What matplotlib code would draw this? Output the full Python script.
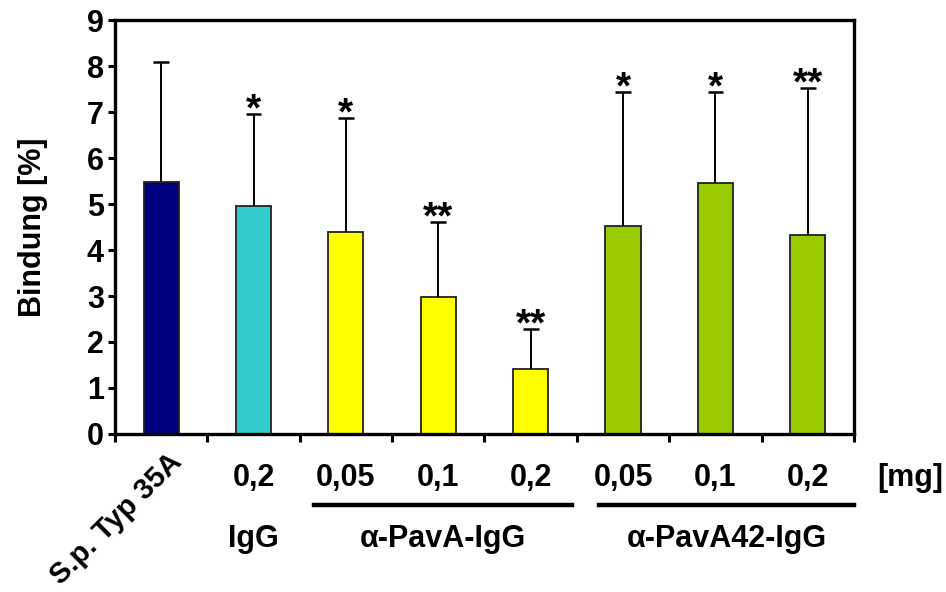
import numpy as np
import matplotlib.pyplot as plt
import matplotlib.transforms as mtransforms
from matplotlib.textpath import TextPath
from matplotlib.font_manager import FontProperties

plt.rcParams['font.family'] = ['Liberation Sans', 'DejaVu Sans']
plt.rcParams['font.weight'] = 'bold'

# -- Data ----------------------------------------------------------------------

doses    = ["", "0,2", "0,05", "0,1", "0,2", "0,05", "0,1", "0,2"]
binding  = [5.48, 4.96, 4.39, 2.98, 1.41, 4.52, 5.45, 4.33]
sd_upper = [2.61, 2.00, 2.48, 1.63, 0.87, 2.91, 1.98, 3.19]
stars    = ["", "*", "*", "**", "**", "*", "*", "**"]
colors   = ["#000080", "#33CCCC", "#FFFF00", "#FFFF00", "#FFFF00",
            "#99CC00", "#99CC00", "#99CC00"]

groups      = ["IgG", "\u03b1-PavA-IgG", "\u03b1-PavA42-IgG"]
group_spans = [(1, 1), (2, 4), (5, 7)]   # first/last bar index per group

# -- Figure --------------------------------------------------------------------

FS = 22
fig = plt.figure(figsize=(9.46, 5.92), dpi=100)
ax = fig.add_axes([0.1216, 0.2669, 0.7811, 0.6993])

x = np.arange(len(binding))
tops = np.add(binding, sd_upper)
ax.bar(x, binding, width=0.38, color=colors, edgecolor="#222222", linewidth=1.3, zorder=2)
# upper-only error bars
ax.vlines(x, binding, tops, color="black", linewidth=1.4, zorder=3)
ax.hlines(tops, x - 0.085, x + 0.085, color="black", linewidth=1.8, zorder=3)

# significance stars, ink bottom a few pixels above the cap
star_fp = FontProperties(family="Liberation Sans", weight="bold", size=28)
star_bottom = TextPath((0, 0), "*", prop=star_fp).get_extents().y0
for xi, top, s in zip(x, tops, stars):
    if s:
        ax.annotate(s, (xi, top), xytext=(0, 4 - star_bottom), textcoords="offset points",
                    ha="center", va="baseline", fontproperties=star_fp)

ax.set_xlim(-0.5, len(x) - 0.5)
ax.set_ylim(0, 9)
ax.set_yticks(range(10))
ax.set_xticks(np.arange(-0.5, len(x), 1))
ax.set_xticklabels([])
ax.tick_params(axis="y", labelsize=FS, width=2.2, length=5, pad=3)
ax.tick_params(axis="x", width=2.2, length=6, direction="out")
for sp in ax.spines.values():
    sp.set_linewidth(2.4)

ax.set_ylabel("Bindung [%]", fontsize=FS, fontweight="bold", labelpad=28)

# dose labels under each bar
trans = mtransforms.blended_transform_factory(ax.transData, fig.transFigure)
for xi, d in zip(x, doses):
    if d:
        ax.text(xi, 1 - 478 / 592, d, transform=trans, ha="center", va="center",
                fontsize=FS, fontweight="bold")
ax.text(910 / 946, 1 - 478 / 592, "[mg]", transform=fig.transFigure,
        ha="center", va="center", fontsize=FS, fontweight="bold")

# strain label, rotated
ax.text(x[0] + 0.07, 1 - 448 / 592, "S.p. Typ 35A", transform=trans, ha="right", va="top",
        rotation=45, rotation_mode="anchor", fontsize=21, fontweight="bold")

# group brackets and names
bracket_pad = {2: (0.35, 0.45), 5: (0.26, 0.5)}
for name, (a, b) in zip(groups, group_spans):
    xc = (a + b) / 2
    if a in bracket_pad:
        lo, hi = a - bracket_pad[a][0], b + bracket_pad[a][1]
        ax.plot([lo, hi], [1 - 505 / 592] * 2, transform=trans,
                color="black", linewidth=3.2, clip_on=False)
        xc = (lo + hi) / 2
    ax.text(xc, 1 - 539 / 592, name, transform=trans, ha="center", va="center",
            fontsize=FS, fontweight="bold")

fig.savefig("out.png", dpi=100)
